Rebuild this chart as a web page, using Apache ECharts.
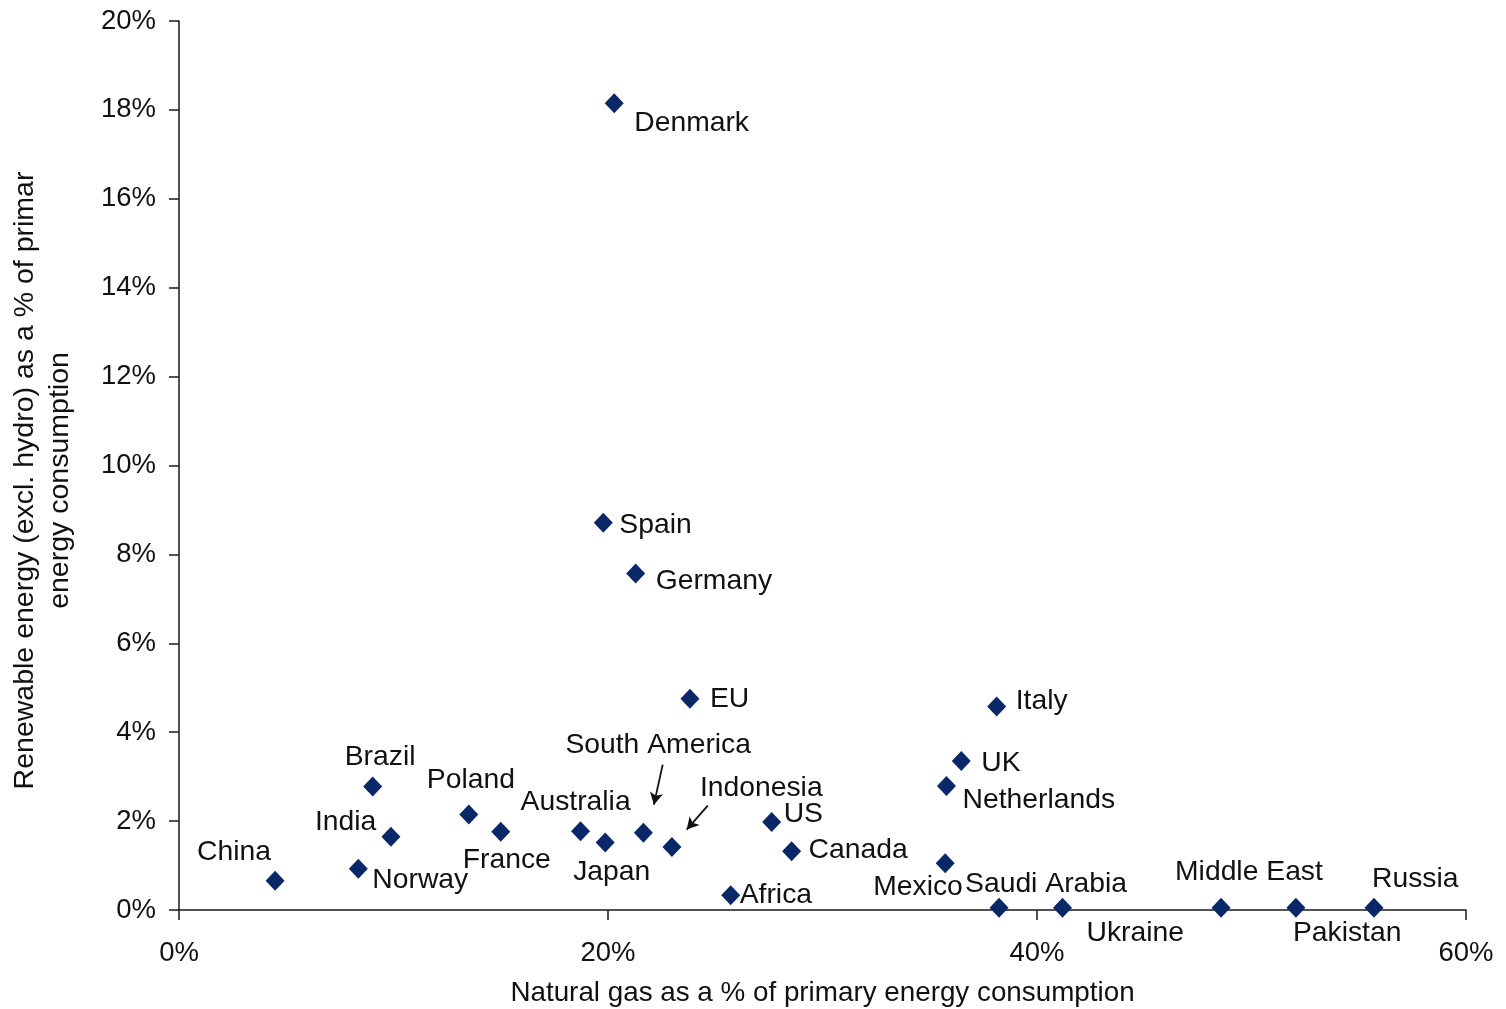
<!DOCTYPE html>
<html>
<head>
<meta charset="utf-8">
<title>Natural gas vs renewable energy share</title>
<script src="https://cdn.jsdelivr.net/npm/echarts@6/dist/echarts.min.js"></script>
<style>
  html, body { margin: 0; padding: 0; background: #ffffff; }
  #chart { width: 1506px; height: 1009px; }
</style>
</head>
<body>
<div id="chart"></div>
<script>
// Countries / regions plotted
const countries = [
  'China', 'Norway', 'India', 'Brazil', 'Poland', 'France', 'Australia', 'Japan',
  'South America', 'Indonesia', 'Africa', 'US', 'Canada', 'EU', 'Denmark', 'Spain',
  'Germany', 'Italy', 'UK', 'Netherlands', 'Mexico', 'Saudi Arabia', 'Ukraine',
  'Middle East', 'Pakistan', 'Russia'
];
// Natural gas as % of primary energy consumption
const gasShare = [
  4.48, 8.36, 9.88, 9.03, 13.51, 15.0, 18.72, 19.87,
  21.65, 22.98, 25.72, 27.63, 28.56, 23.82, 20.29, 19.78,
  21.29, 38.12, 36.47, 35.78, 35.72, 38.23, 41.19,
  48.58, 52.07, 55.71
];
// Renewable energy (excl. hydro) as % of primary energy consumption
const renewShare = [
  0.66, 0.93, 1.65, 2.78, 2.15, 1.76, 1.77, 1.52,
  1.74, 1.42, 0.33, 1.98, 1.32, 4.75, 18.15, 8.71,
  7.57, 4.58, 3.35, 2.79, 1.05, 0.05, 0.05,
  0.05, 0.05, 0.05
];
// Axis ticks
const xTicks = { min: 0, max: 60, step: 20 };
const yTicks = { min: 0, max: 20, step: 2 };

// Pointer arrows linking crowded labels to their markers (axis units)
const arrows = [
  { from: [22.55, 3.27], to: [22.14, 2.37] },   // South America
  { from: [24.65, 2.35], to: [23.67, 1.81] }    // Indonesia
];

// Label placement: left edge / vertical centre of each label relative to its marker, px
const labelOffset = {
  'China': [-76, -30], 'Norway': [16, 10], 'India': [-74, -16], 'Brazil': [-26, -31],
  'Poland': [-40, -36], 'France': [-36, 26], 'Australia': [-58, -31], 'Japan': [-30, 28],
  'South America': [-76, -89], 'Indonesia': [30, -61], 'Africa': [11, -2], 'US': [14, -10],
  'Canada': [19, -3], 'EU': [22, -2], 'Denmark': [22, 18], 'Spain': [18, 0],
  'Germany': [22, 6], 'Italy': [21, -7], 'UK': [22, 0], 'Netherlands': [18, 12],
  'Mexico': [-70, 22], 'Saudi Arabia': [-32, -26], 'Ukraine': [26, 23],
  'Middle East': [-44, -38], 'Pakistan': [-1, 23], 'Russia': [0, -31]
};
// Glyph side bearing / baseline correction applied to every label
const LABEL_SHIFT = [-2, 2];

const FONT = 'Liberation Sans, Arial, sans-serif';
const TEXT = '#111111';
const AXIS = '#1a1a1a';
const MARK = '#0a2868';
const FS = 27.5;

const points = countries.map((name, i) => {
  const off = labelOffset[name] || [18, 0];
  return {
    name: name,
    value: [gasShare[i], renewShare[i]],
    label: { offset: [off[0] + LABEL_SHIFT[0], off[1] + LABEL_SHIFT[1]] }
  };
});

const chart = echarts.init(document.getElementById('chart'), null, { renderer: 'canvas' });

chart.setOption({
  backgroundColor: '#ffffff',
  animation: false,
  grid: { left: 179, right: 40, top: 21, bottom: 99, containLabel: false, outerBoundsMode: 'none' },
  xAxis: {
    type: 'value',
    min: xTicks.min, max: xTicks.max, interval: xTicks.step,
    name: 'Natural gas as a % of primary energy consumption',
    nameLocation: 'middle',
    nameGap: 69,
    nameTextStyle: { fontFamily: FONT, fontSize: 27.8, color: TEXT },
    axisLine: { show: true, lineStyle: { color: AXIS, width: 1.5 } },
    axisTick: { show: true, inside: false, length: 10, lineStyle: { color: AXIS, width: 1.5 } },
    axisLabel: { formatter: '{value}%', margin: 29, fontFamily: FONT, fontSize: FS, color: TEXT },
    splitLine: { show: false }
  },
  yAxis: {
    type: 'value',
    min: yTicks.min, max: yTicks.max, interval: yTicks.step,
    name: 'Renewable energy (excl. hydro) as a % of primar\nenergy consumption',
    nameLocation: 'middle',
    nameRotate: 90,
    nameGap: 101,
    nameTextStyle: {
      fontFamily: FONT, fontSize: 28.5, color: TEXT, lineHeight: 35,
      align: 'center', padding: [0, 30, 0, 0]
    },
    axisLine: { show: true, lineStyle: { color: AXIS, width: 1.5 } },
    axisTick: { show: true, inside: false, length: 10, lineStyle: { color: AXIS, width: 1.5 } },
    axisLabel: { formatter: '{value}%', margin: 23, fontFamily: FONT, fontSize: FS, color: TEXT },
    splitLine: { show: false }
  },
  series: [{
    type: 'scatter',
    symbol: 'diamond',
    symbolSize: [19, 20],
    itemStyle: { color: MARK, opacity: 1 },
    data: points,
    label: {
      show: true,
      position: 'inside',
      align: 'left',
      verticalAlign: 'middle',
      formatter: '{b}',
      fontFamily: FONT,
      fontSize: 28.3,
      color: TEXT,
      opacity: 1
    },
    emphasis: { disabled: true },
    markLine: {
      silent: true,
      symbol: ['none', 'arrow'],
      symbolSize: [10, 12],
      label: { show: false },
      lineStyle: { color: '#111111', width: 1.8, type: 'solid', opacity: 1 },
      data: arrows.map(a => [{ coord: a.from }, { coord: a.to }])
    }
  }]
});
</script>
</body>
</html>
